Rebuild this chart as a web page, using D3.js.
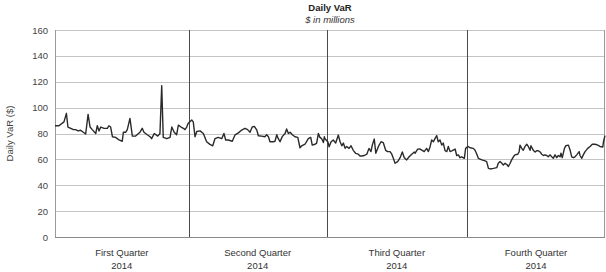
<!DOCTYPE html>
<html>
<head>
<meta charset="utf-8">
<script src="https://cdn.jsdelivr.net/npm/d3@7"></script>
<style>
  html, body { margin: 0; padding: 0; background: #fff; }
  svg { display: block; font-family: "Liberation Sans", Arial, sans-serif; }
</style>
</head>
<body>
<svg id="chart" width="606" height="272"></svg>
<script>
// Trading day index (0..251) within 2014
const days = [0,1.8,4.1,5.2,5.9,7.2,8.4,9.4,10.5,11.7,12.9,14.0,15.1,16.0,17.0,18.6,19.3,20.1,20.9,22.4,23.9,24.6,25.4,26.2,27.7,29.2,30.7,31.2,32.3,33.0,34.2,35.3,36.8,38.8,39.8,40.6,42.1,43.4,44.1,45.3,46.9,47.9,48.7,49.4,51.0,52.5,53.3,54.4,55.5,56.3,57.5,58.6,59.3,60.1,60.8,62.4,63.1,63.9,64.7,66.2,67.7,69.2,70.7,72.0,73.0,74.5,76.1,77.1,77.9,79.1,80.9,82.2,83.7,85.2,86.7,87.9,89.0,90.0,91.0,92.1,92.8,94.3,95.8,96.6,97.4,98.1,99.6,100.4,101.2,101.9,102.7,103.7,105.0,105.7,106.5,107.3,108.3,109.5,110.8,111.8,112.6,114.1,115.6,116.7,117.4,118.7,119.4,120.2,120.9,121.7,122.5,122.9,123.2,124.5,125.1,126.0,127.0,128.1,129.3,130.1,130.9,131.6,132.4,133.1,134.2,135.1,136.1,137.2,138.4,139.2,140.0,141.2,142.3,143.3,144.2,144.8,145.7,146.4,147.6,148.8,149.8,150.9,151.8,152.9,153.7,154.4,155.2,156.4,157.5,158.5,159.4,160.5,161.6,162.8,164.0,164.3,165.5,166.6,167.6,168.5,169.6,170.4,171.2,171.9,172.7,173.4,174.2,174.9,175.7,176.5,177.2,178.0,178.8,179.5,180.3,181.3,182.6,183.3,184.1,184.8,185.6,186.8,187.4,188.4,189.4,190.9,191.7,192.5,193.2,194.8,196.3,197.0,197.8,198.6,200.1,201.6,202.3,203.1,203.9,204.6,205.4,206.2,206.9,207.7,208.4,209.2,209.9,211.2,211.8,212.2,213.0,213.7,214.5,215.3,216.0,216.8,217.2,218.3,219.1,219.8,220.6,221.4,222.1,222.9,223.6,224.4,225.1,225.9,226.7,227.4,228.2,229.0,229.7,230.5,230.9,231.5,232.5,233.1,234.3,235.1,235.8,236.6,237.3,238.1,239.2,239.6,240.4,241.1,241.9,243.1,244.2,245.2,246.5,247.7,248.7,250.0,250.3,251];
// Daily VaR, $ millions
const varValues = [86,86,89,95.6,85,84,83,83,82,82.5,81,79.6,94.8,85,83,80,86,82,85,84,84,86,85,77.5,77,75,74,81,81,83,91.7,78,78,81,84,81,79,77.5,76,80,78,80,117,77,76,77,85,81,79,86.5,85,84,83,85,88,90.4,89,77.5,81.5,82,80,73.6,71.6,70.5,76,77,76,80,75,75,74,79,80.5,82.7,84,83,81,85,85.5,82.6,78.3,78,77.5,79,77.5,73.6,73.6,74,79,76,73.6,77.6,80,83.5,80,81,79,77.5,77,69,70.5,71.7,76,77,71,71.7,72.6,80,77,76,73,77.5,76,73.6,69.8,73.6,75,72.6,78.8,73.6,70.5,72.6,68.5,70,68.5,70.5,67,64.7,64,62.6,62.6,63,64,68.5,66,71,75.7,64.7,70,73.6,73,67,66,66,64,60.8,57,58.3,61.3,65.7,61.3,59.6,62,64,65.7,64.7,67.9,68,67,66,68.5,66,70,75,73.6,76,78.3,73.6,75,71,72.6,66.7,66,70,66,66.7,68,63,63.5,61.3,62,60.8,68.5,70,69,68.5,67,64,60.8,59.6,58.8,58.3,53,52.6,53,53.6,57,58.3,57,55.7,57,56,54.5,57,59.6,62,63.5,64,65.7,71,68.5,67,70,71.7,70,67,70.5,67,65.7,66.7,66.7,65.7,64,63,63.5,63,62,63.5,62,60.8,63.5,61.3,63,62,64.7,61.3,68.5,70.5,71,67,62,61.3,62,63.5,66,63,60.8,63.5,66,68.5,70,71.7,71.7,71,70,69.6,73.6,78.3];

const quarterBounds = [0, 61, 124, 188, 251];
const quarterLabels = ["First Quarter", "Second Quarter", "Third Quarter", "Fourth Quarter"];
const quarterYear = "2014";
const yTicks = [0, 20, 40, 60, 80, 100, 120, 140, 160];

const title = "Daily VaR";
const subtitle = "$ in millions";
const yLabel = "Daily VaR ($)";

const svg = d3.select("#chart");
const W = 606, H = 272;
const m = { left: 55, right: 1, top: 30, bottom: 35 };

const x = d3.scaleLinear().domain([0, 251]).range([m.left, W - m.right]);
const y = d3.scaleLinear().domain([0, 160]).range([H - m.bottom, m.top]);

// Gridlines via axis
const gridAxis = d3.axisLeft(y).tickValues(yTicks).tickSize(-(x.range()[1] - x.range()[0])).tickFormat(d3.format("d")).tickPadding(7);
const gy = svg.append("g").attr("transform", `translate(${m.left},0)`).call(gridAxis);
gy.select(".domain").remove();
gy.selectAll(".tick line").attr("stroke", "#c4c4c4").attr("stroke-width", 1).attr("shape-rendering", "crispEdges");
gy.selectAll(".tick text").attr("fill", "#444").style("font-size", "9.5px").attr("font-family", "Liberation Sans, Arial, sans-serif");

// Left and right borders
svg.append("line").attr("x1", x(0)).attr("x2", x(0)).attr("y1", y(0)).attr("y2", y(160))
  .attr("stroke", "#9a9a9a").attr("shape-rendering", "crispEdges");
svg.append("line").attr("x1", x(251) - 0.5).attr("x2", x(251) - 0.5).attr("y1", y(0)).attr("y2", y(160))
  .attr("stroke", "#9a9a9a").attr("shape-rendering", "crispEdges");
// bottom axis line darker
svg.append("line").attr("x1", x(0)).attr("x2", x(251)).attr("y1", y(0)).attr("y2", y(0))
  .attr("stroke", "#8a8a8a").attr("shape-rendering", "crispEdges");

// Quarter dividers
svg.selectAll("line.qdiv").data(quarterBounds.slice(1, 4)).enter().append("line")
  .attr("class", "qdiv")
  .attr("x1", d => Math.round(x(d)) + 0.5).attr("x2", d => Math.round(x(d)) + 0.5)
  .attr("y1", y(0)).attr("y2", y(160))
  .attr("stroke", "#4a4a4a").attr("stroke-width", 1);

// Data line
const data = days.map((d, i) => ({ d, v: varValues[i] }));
svg.append("path").datum(data)
  .attr("fill", "none").attr("stroke", "#2a2a2a").attr("stroke-width", 1.4).attr("stroke-linejoin", "round")
  .attr("d", d3.line().x(p => x(p.d)).y(p => y(p.v)));

// Quarter labels
const ql = svg.selectAll("g.ql").data(quarterLabels).enter().append("g").attr("class", "ql");
ql.append("text")
  .attr("x", (d, i) => (x(quarterBounds[i]) + x(quarterBounds[i + 1])) / 2)
  .attr("y", 256).attr("text-anchor", "middle").attr("fill", "#333").style("font-size", "9.5px")
  .text(d => d);
ql.append("text")
  .attr("x", (d, i) => (x(quarterBounds[i]) + x(quarterBounds[i + 1])) / 2)
  .attr("y", 269).attr("text-anchor", "middle").attr("fill", "#333").style("font-size", "9.5px")
  .text(quarterYear);

// Title
const cx = (x.range()[0] + x.range()[1]) / 2;
svg.append("text").attr("x", cx).attr("y", 11).attr("text-anchor", "middle")
  .attr("fill", "#222").style("font-size", "9.5px").style("font-weight", "bold").text(title);
svg.append("text").attr("x", cx).attr("y", 23).attr("text-anchor", "middle")
  .attr("fill", "#333").style("font-size", "9.5px").style("font-style", "italic").text(subtitle);

// Y label
svg.append("text").attr("transform", `translate(13,${(y(0) + y(160)) / 2}) rotate(-90)`)
  .attr("text-anchor", "middle").attr("fill", "#444").style("font-size", "9.5px").text(yLabel);
</script>
</body>
</html>
